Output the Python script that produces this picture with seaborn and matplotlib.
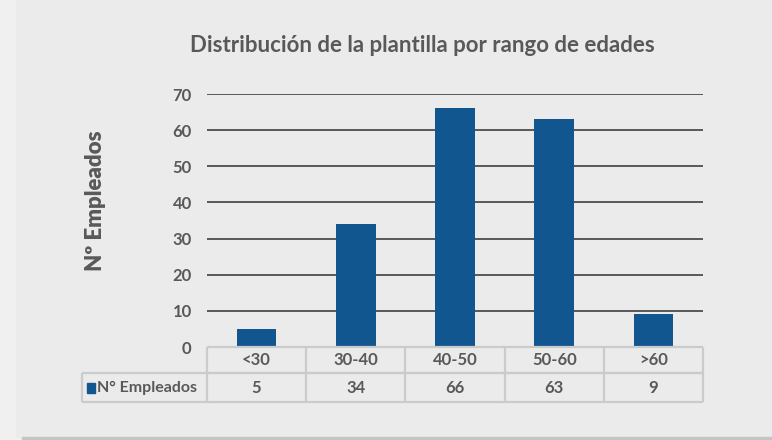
import matplotlib
matplotlib.use("Agg")
import matplotlib.pyplot as plt
import seaborn as sns
import pandas as pd
from matplotlib.patches import Rectangle

# datos
rangos = ["<30", "30-40", "40-50", "50-60", ">60"]
empleados = [5, 34, 66, 63, 9]
serie = "N° Empleados"
titulo = "Distribución de la plantilla por rango de edades"
eje_y = "Nº Empleados"
ticks_y = [0, 10, 20, 30, 40, 50, 60, 70]

GRIS = "#595959"
AZUL = "#12568f"
BORDE = "#c9cccb"

sns.set_theme(style="white")
plt.rcParams["font.family"] = ["Lato", "DejaVu Sans"]

W, H = 772, 440
fig = plt.figure(figsize=(W / 100, H / 100), dpi=100, facecolor="#f0f0f0")

# fondo del area del grafico y franja inferior
fig.patches.append(Rectangle((16 / W, 3 / H), 1, 1, transform=fig.transFigure,
                             color="#ebebeb", zorder=-2))
fig.patches.append(Rectangle((22 / W, 0), 1, 3 / H, transform=fig.transFigure,
                             color="#c3c6c5", zorder=-1))

def px(x0, y0, x1, y1):
    return [x0 / W, 1 - y1 / H, (x1 - x0) / W, (y1 - y0) / H]

ax = fig.add_axes(px(207, 94, 703, 347))
ax.set_facecolor("none")
df = pd.DataFrame({"rango": rangos, "n": empleados})
sns.barplot(data=df, x="rango", y="n", color=AZUL, width=0.4, saturation=1,
            linewidth=0, ax=ax, zorder=3)
ax.set_xlim(-0.5, len(rangos) - 0.5)
ax.set_ylim(0, 70)
ax.set_yticks(ticks_y)
ax.yaxis.grid(True, color=GRIS, lw=1.4)
ax.set_axisbelow(True)
ax.set_xticks([])
ax.set_xlabel("")
ax.set_ylabel("")
for s in ax.spines.values():
    s.set_visible(False)
ax.tick_params(axis="y", length=0, pad=11, labelsize=12, labelcolor=GRIS)
for t in ax.get_yticklabels():
    t.set_family("Lato")
    t.set_fontweight("bold")

fig.text(422 / W, 1 - 46 / H, titulo, ha="center", va="center", family="Lato",
         fontsize=16, fontweight="bold", color=GRIS)
fig.text(95 / W, 1 - 201 / H, eje_y, ha="center", va="center", rotation=90,
         family="Lato", fontsize=16, fontweight="heavy", color=GRIS)

# tabla de datos bajo el eje
tax = fig.add_axes(px(82, 347, 703, 402))
tax.set_facecolor("none")
n = len(rangos)
izq = -0.5 - 125 / 99.2
tax.set_xlim(izq, n - 0.5)
tax.set_ylim(0, 55)
tax.axis("off")
kw = dict(color=BORDE, lw=1.6, clip_on=False)
tax.hlines([29, 55], -0.5, n - 0.5, **kw)
tax.hlines([0, 29], izq, n - 0.5, **kw)
for i in range(n + 1):
    tax.vlines(i - 0.5, 0, 55, **kw)
tax.vlines(izq, 0, 29, **kw)
txt = dict(ha="center", va="center", fontsize=12, color=GRIS,
           family="Lato", fontweight="bold")
for i, (r, v) in enumerate(zip(rangos, empleados)):
    tax.text(i, 42, r, **txt)
    tax.text(i, 14.5, str(v), **txt)
tax.add_patch(Rectangle((izq + 0.05, 9.5), 0.08, 9.5, color=AZUL))
tax.text(izq + 0.15, 14.5, serie, ha="left", va="center", fontsize=11.5,
         color=GRIS, family="Lato", fontweight="bold")

fig.savefig("out.png", dpi=100, facecolor=fig.get_facecolor())
